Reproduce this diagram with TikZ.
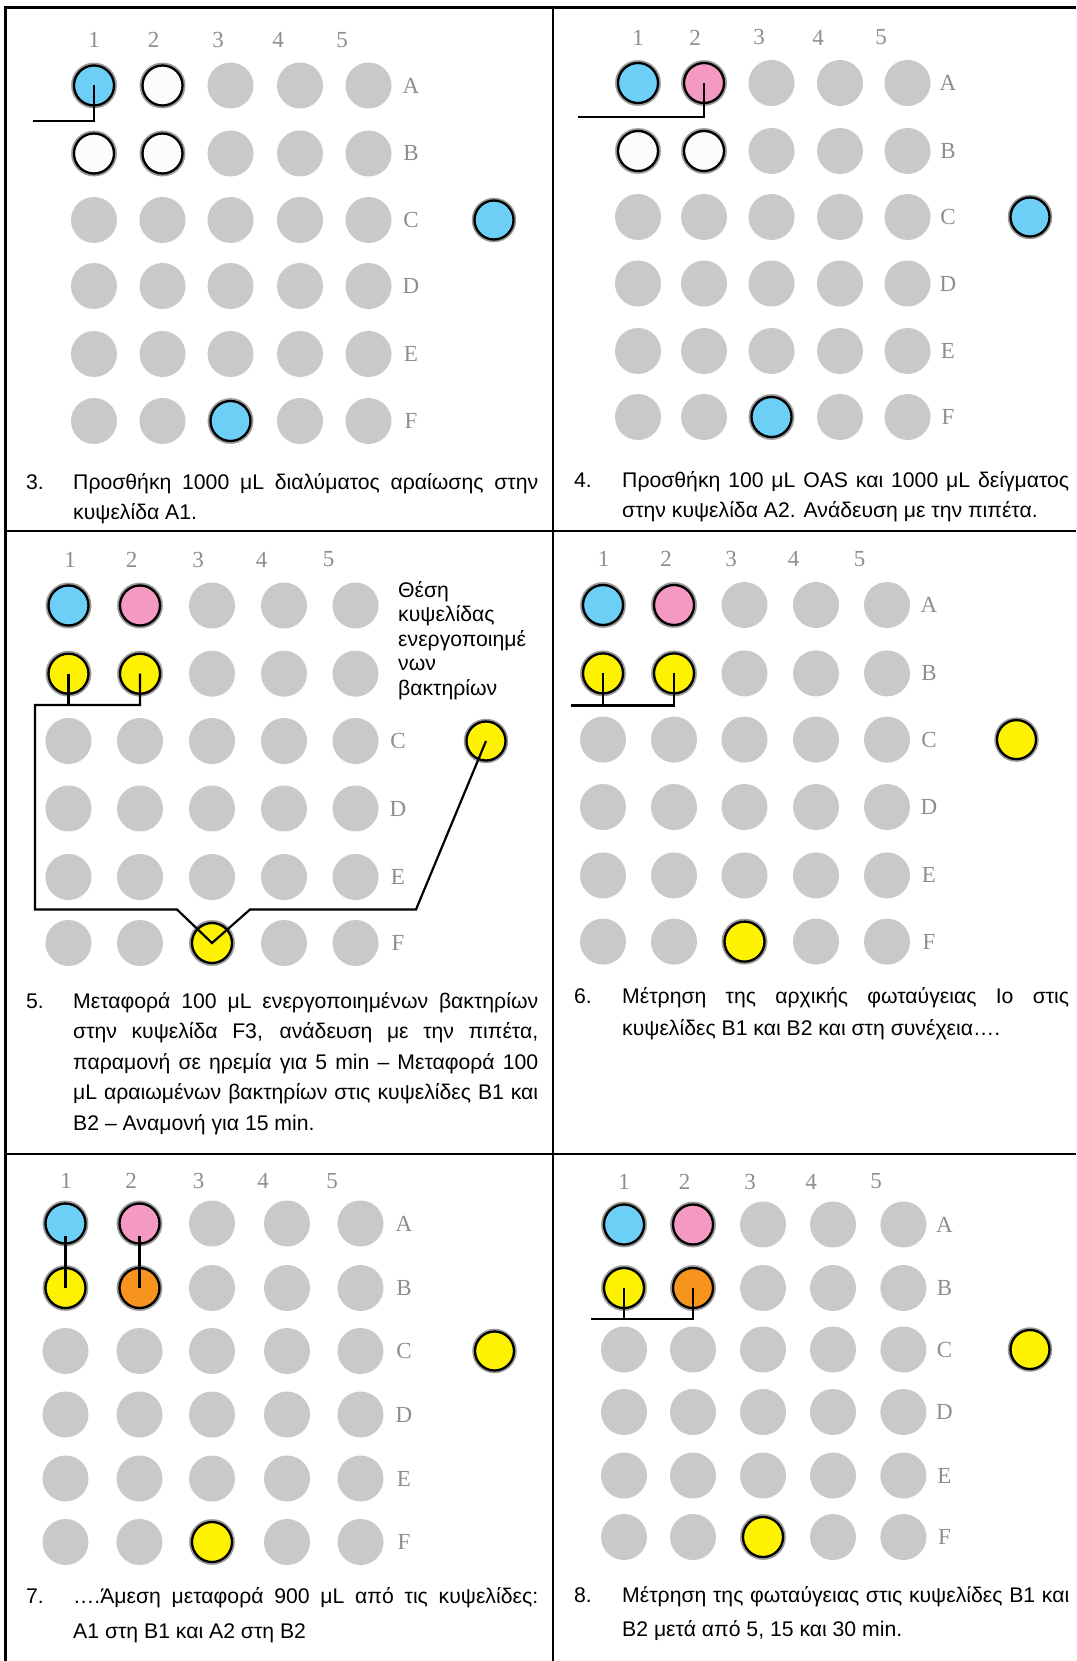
\documentclass[tikz,border=0pt]{standalone}
\usepackage{fontspec}
\setmainfont{Liberation Sans}
\newfontfamily\labfont{Liberation Serif}
\usetikzlibrary{calc}
\definecolor{wblue}{HTML}{6DCFF6}
\definecolor{wpink}{HTML}{F49AC2}
\definecolor{wyellow}{HTML}{FFF200}
\definecolor{worange}{HTML}{F7941E}
\definecolor{wwhite}{HTML}{FCFCFC}
\definecolor{wgrey}{HTML}{C9C9C9}
\definecolor{labgrey}{HTML}{8E8E8E}
\definecolor{halogrey}{HTML}{9A9A9A}
\tikzset{
  gwell/.style={circle, fill=wgrey, minimum size=46pt, inner sep=0pt},
  cwell/.style={circle, draw=black, line width=2.3pt, minimum size=40pt, inner sep=0pt,
                preaction={draw=halogrey, line width=5.5pt}},
  xwell/.style={cwell, minimum size=39pt},
  collab/.style={font=\labfont\fontsize{23}{23}\selectfont, text=labgrey, inner sep=0pt},
  rowlab/.style={font=\labfont\fontsize{23}{23}\selectfont, text=labgrey, inner sep=0pt},
  capline/.style={anchor=base west, inner sep=0pt, font=\fontsize{21.2}{25}\selectfont},
  conn/.style={line width=2.2pt, black},
  framebar/.style={line width=2.7pt, black},
}
% #1 prefix, #2 xs, #3 ys, #4 column-label xs, #5 column-label y, #6 row-label x, #7 row labels
\newcommand\drawplate[7]{%
  \foreach \xx [count=\ci] in {#2}{%
    \foreach \yy [count=\ri] in {#3}{%
      \node[gwell] (#1w\ri\ci) at (\xx,\yy) {};
    }%
  }%
  \foreach \xx [count=\ci] in {#4}{\node[collab] (#1c\ci) at (\xx,#5) {\ci};}%
  \foreach \ri/\lt in {#7}{\node[rowlab] (#1r\ri) at (#6,0 |- #1w\ri1) {\lt};}%
}
\begin{document}
\begin{tikzpicture}[x=1pt,y=-1pt]
\useasboundingbox (0,0) rectangle (1076,1661);
\fill[white] (0,0) rectangle (1076,1661);

% frame
\draw[framebar] (5.5,1661) -- (5.5,7.5) -- (1076,7.5);
\draw[framebar] (553,7.5) -- (553,1661);
\draw[framebar] (5.5,531) -- (1076,531);
\draw[framebar] (5.5,1154) -- (1076,1154);

% ---------- panel 3 (top left)
\drawplate{p1}{94,162.5,230.5,300,368.5}{85.5,153.5,220,286,354,421}{94,153.5,218,278,342}{40}{411}{1/A,2/B,3/C,4/D,5/E,6/F}
\node[cwell, fill=wblue]  (p1a1) at (p1w11) {};
\node[cwell, fill=wwhite] (p1a2) at (p1w12) {};
\node[cwell, fill=wwhite] (p1b1) at (p1w21) {};
\node[cwell, fill=wwhite] (p1b2) at (p1w22) {};
\node[cwell, fill=wblue]  (p1f3) at (p1w63) {};
\node[xwell, fill=wblue]  (p1x) at (494,220) {};
\coordinate (p1k) at (33,121);
\draw[conn] (p1k) -- (p1k -| p1a1) -- (p1a1.center);
\node[capline] (p1n) at (26,489) {3.};
\node[capline] (p1t1) at (73,489) {\makebox[465pt][s]{Προσθήκη 1000 μL διαλύματος αραίωσης στην}};
\node[capline] (p1t2) at (73,519.5) {κυψελίδα Α1.};

% ---------- panel 4 (top right)
\drawplate{p2}{638,704,771.5,840,907.5}{83,151,217,283.5,351,417}{638,695,759,818,881}{37.5}{948}{1/A,2/B,3/C,4/D,5/E,6/F}
\node[cwell, fill=wblue]  (p2a1) at (p2w11) {};
\node[cwell, fill=wpink]  (p2a2) at (p2w12) {};
\node[cwell, fill=wwhite] (p2b1) at (p2w21) {};
\node[cwell, fill=wwhite] (p2b2) at (p2w22) {};
\node[cwell, fill=wblue]  (p2f3) at (p2w63) {};
\node[xwell, fill=wblue]  (p2x) at (1030,217) {};
\coordinate (p2k) at (578,117);
\draw[conn] (p2k) -- (p2k -| p2a2) -- (p2a2.center);
\node[capline] (p2n) at (574,487.5) {4.};
\node[capline] (p2t1) at (622,487.5) {\makebox[447pt][s]{Προσθήκη 100 μL OAS και 1000 μL δείγματος}};
\node[capline] (p2t2) at (622,517.5) {στην κυψελίδα Α2. Ανάδευση με την πιπέτα.};

% ---------- panel 5 (middle left)
\drawplate{p3}{68.5,140,212,284,355.5}{605.5,673.7,741,808.5,877,943}{70,131.5,198,261.5,328.5}{559.5}{398}{3/C,4/D,5/E,6/F}
\node[cwell, fill=wblue]   (p3a1) at (p3w11) {};
\node[cwell, fill=wpink]   (p3a2) at (p3w12) {};
\node[cwell, fill=wyellow] (p3b1) at (p3w21) {};
\node[cwell, fill=wyellow] (p3b2) at (p3w22) {};
\node[cwell, fill=wyellow] (p3f3) at (p3w63) {};
\node[xwell, fill=wyellow] (p3x) at (486,741) {};
\node[capline] (p3s1) at (398,597) {Θέση};
\node[capline] (p3s2) at (398,621.5) {κυψελίδας};
\node[capline] (p3s3) at (398,646) {ενεργοποιημέ};
\node[capline] (p3s4) at (398,670.5) {νων};
\node[capline] (p3s5) at (398,695) {βακτηρίων};
\coordinate (p3k1) at (35,705);
\coordinate (p3k2) at (35,909.5);
\coordinate (p3k3) at (177,909.5);
\coordinate (p3k4) at (250,909.5);
\coordinate (p3k5) at (416,909.5);
\draw[conn] (p3b1.center) -- (p3k1 -| p3b1);
\draw[conn] (p3b2.center) -- (p3k1 -| p3b2) -- (p3k1) -- (p3k2) -- (p3k3) -- (p3f3.center) -- (p3k4) -- (p3k5) -- (p3x.center);
\node[capline] (p3n) at (26,1008.5) {5.};
\node[capline] (p3t1) at (73,1008.5) {\makebox[465pt][s]{Μεταφορά 100 μL ενεργοποιημένων βακτηρίων}};
\node[capline] (p3t2) at (73,1038.5) {\makebox[465pt][s]{στην κυψελίδα F3, ανάδευση με την πιπέτα,}};
\node[capline] (p3t3) at (73,1069.5) {\makebox[465pt][s]{παραμονή σε ηρεμία για 5 min – Μεταφορά 100}};
\node[capline] (p3t4) at (73,1099.5) {\makebox[465pt][s]{μL αραιωμένων βακτηρίων στις κυψελίδες Β1 και}};
\node[capline] (p3t5) at (73,1130) {Β2 – Αναμονή για 15 min.};

% ---------- panel 6 (middle right)
\drawplate{p4}{603,674,744.5,816,887}{605,673.4,739.6,807,875.4,941.6}{603.5,666,731,793.5,859.5}{559}{929}{1/A,2/B,3/C,4/D,5/E,6/F}
\node[cwell, fill=wblue]   (p4a1) at (p4w11) {};
\node[cwell, fill=wpink]   (p4a2) at (p4w12) {};
\node[cwell, fill=wyellow] (p4b1) at (p4w21) {};
\node[cwell, fill=wyellow] (p4b2) at (p4w22) {};
\node[cwell, fill=wyellow] (p4f3) at (p4w63) {};
\node[xwell, fill=wyellow] (p4x) at (1016.5,739.6) {};
\coordinate (p4k) at (571,705.5);
\draw[conn] (p4k) -- (p4k -| p4b2) -- (p4b2.center);
\draw[conn] (p4b1.center) -- (p4k -| p4b1);
\node[capline] (p4n) at (574,1003.5) {6.};
\node[capline] (p4t1) at (622,1003.5) {\makebox[447pt][s]{Μέτρηση της αρχικής φωταύγειας Ιο στις}};
\node[capline] (p4t2) at (622,1035) {κυψελίδες Β1 και Β2 και στη συνέχεια….};

% ---------- panel 7 (bottom left)
\drawplate{p5}{65.5,139.5,212,287,360.5}{1223.5,1288,1351,1414.5,1478.5,1542}{66,131,198.5,263,332}{1181}{404}{1/A,2/B,3/C,4/D,5/E,6/F}
\node[cwell, fill=wblue]   (p5a1) at (p5w11) {};
\node[cwell, fill=wpink]   (p5a2) at (p5w12) {};
\node[cwell, fill=wyellow] (p5b1) at (p5w21) {};
\node[cwell, fill=worange] (p5b2) at (p5w22) {};
\node[cwell, fill=wyellow] (p5f3) at (p5w63) {};
\node[xwell, fill=wyellow] (p5x) at (494.5,1351) {};
\draw[conn] ($(p5a1.center)+(0,12)$) -- (p5b1.center);
\draw[conn] ($(p5a2.center)+(0,12)$) -- (p5b2.center);
\node[capline] (p5n) at (26,1603.5) {7.};
\node[capline] (p5t1) at (73,1603.5) {\makebox[465pt][s]{….Άμεση μεταφορά 900 μL από τις κυψελίδες:}};
\node[capline] (p5t2) at (73,1638) {Α1 στη Β1 και Α2 στη Β2};

% ---------- panel 8 (bottom right)
\drawplate{p6}{624,693,763,833,903.4}{1224.5,1288,1349.5,1412,1475.5,1537}{624,684.5,750,811,876}{1181.5}{944.5}{1/A,2/B,3/C,4/D,5/E,6/F}
\node[cwell, fill=wblue]   (p6a1) at (p6w11) {};
\node[cwell, fill=wpink]   (p6a2) at (p6w12) {};
\node[cwell, fill=wyellow] (p6b1) at (p6w21) {};
\node[cwell, fill=worange] (p6b2) at (p6w22) {};
\node[cwell, fill=wyellow] (p6f3) at (p6w63) {};
\node[xwell, fill=wyellow] (p6x) at (1030,1349.5) {};
\coordinate (p6k) at (591,1319);
\draw[conn] (p6k) -- (p6k -| p6b2) -- (p6b2.center);
\draw[conn] (p6b1.center) -- (p6k -| p6b1);
\node[capline] (p6n) at (574,1602.5) {8.};
\node[capline] (p6t1) at (622,1602.5) {\makebox[447pt][s]{Μέτρηση της φωταύγειας στις κυψελίδες Β1 και}};
\node[capline] (p6t2) at (622,1636.5) {Β2 μετά από 5, 15 και 30 min.};
\end{tikzpicture}
\end{document}
